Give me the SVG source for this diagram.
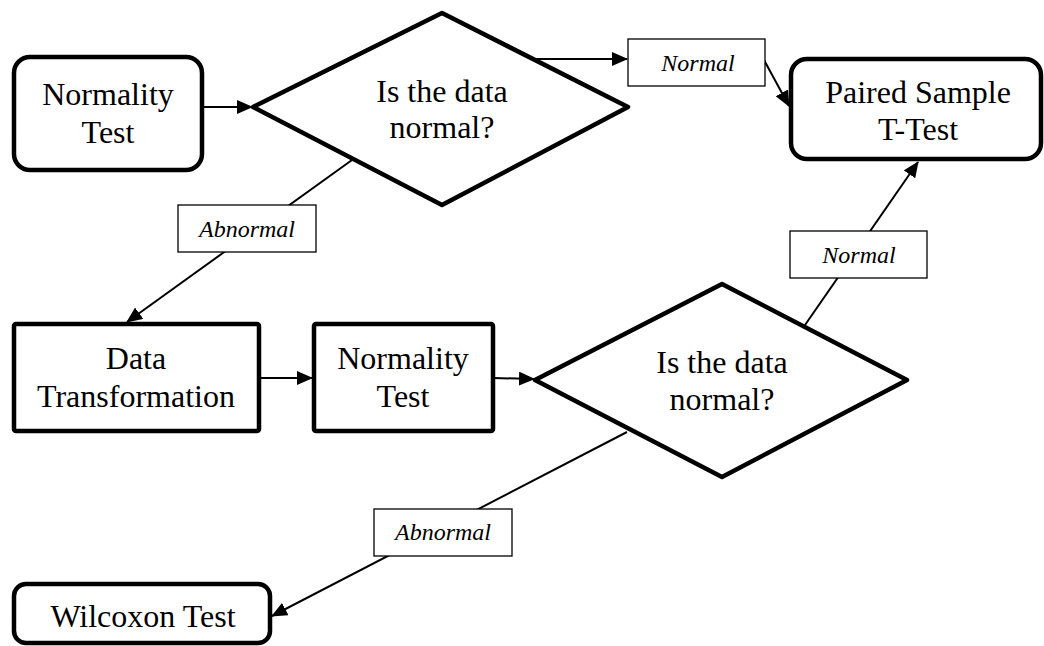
<svg xmlns="http://www.w3.org/2000/svg" width="1044" height="646" viewBox="0 0 1044 646">
<style>
.node{fill:#fff;stroke:#000;stroke-width:4.5;stroke-linejoin:round}
.nt{font-family:"Liberation Serif","Times New Roman",serif;font-size:32px;fill:#000;text-anchor:middle}
.edge{stroke:#000;stroke-width:2;fill:none}
.lbox{fill:#fff;stroke:#000;stroke-width:1.3}
.lt{font-family:"Liberation Serif","Times New Roman",serif;font-size:24px;font-style:italic;fill:#000;text-anchor:middle}
</style>
<defs>
<marker id="ah" markerUnits="userSpaceOnUse" markerWidth="16" markerHeight="14" refX="15" refY="7" orient="auto">
<path d="M0,0 L16,7 L0,14 Z" fill="#000"/>
</marker>
</defs>
<g id="connectors">
<line class="edge" x1="202" y1="107" x2="252" y2="107" marker-end="url(#ah)"/>
<line class="edge" x1="535" y1="59" x2="627" y2="59" marker-end="url(#ah)"/>
<line class="edge" x1="764" y1="60" x2="789" y2="106" marker-end="url(#ah)"/>
<line class="edge" x1="352" y1="160" x2="127" y2="322" marker-end="url(#ah)"/>
<line class="edge" x1="259" y1="378" x2="312" y2="378" marker-end="url(#ah)"/>
<line class="edge" x1="493" y1="378" x2="534" y2="379" marker-end="url(#ah)"/>
<line class="edge" x1="805" y1="325" x2="918" y2="162" marker-end="url(#ah)"/>
<line class="edge" x1="627" y1="432" x2="272" y2="616" marker-end="url(#ah)"/>
</g>
<g id="normality-test-1">
<rect class="node" x="14" y="57" width="188" height="113" rx="16"/>
<text class="nt" x="108" y="105">Normality</text>
<text class="nt" x="108" y="143">Test</text>
</g>
<g id="decision-1">
<polygon class="node" points="253,107 442,13 628,107 442,205"/>
<text class="nt" x="442" y="102">Is the data</text>
<text class="nt" x="442" y="138">normal?</text>
</g>
<g id="paired-t-test">
<rect class="node" x="791" y="59" width="250" height="100" rx="16"/>
<text class="nt" x="918" y="103">Paired Sample</text>
<text class="nt" x="918" y="140">T-Test</text>
</g>
<g id="data-transformation">
<rect class="node" x="14" y="324" width="245" height="107" rx="2"/>
<text class="nt" x="136" y="369">Data</text>
<text class="nt" x="136" y="407">Transformation</text>
</g>
<g id="normality-test-2">
<rect class="node" x="314" y="324" width="179" height="107" rx="2"/>
<text class="nt" x="403" y="369">Normality</text>
<text class="nt" x="403" y="407">Test</text>
</g>
<g id="decision-2">
<polygon class="node" points="535,380 722,284 907,380 722,477"/>
<text class="nt" x="722" y="373">Is the data</text>
<text class="nt" x="722" y="410">normal?</text>
</g>
<g id="wilcoxon-test">
<rect class="node" x="14" y="584" width="256" height="59" rx="12"/>
<text class="nt" x="143" y="627">Wilcoxon Test</text>
</g>
<g id="edge-labels">
<g id="label-normal-1"><rect class="lbox" x="628" y="39" width="137" height="47"/><text class="lt" x="698" y="71">Normal</text></g>
<g id="label-abnormal-1"><rect class="lbox" x="178" y="205" width="138" height="47"/><text class="lt" x="247" y="237">Abnormal</text></g>
<g id="label-normal-2"><rect class="lbox" x="790" y="231" width="137" height="47"/><text class="lt" x="859" y="263">Normal</text></g>
<g id="label-abnormal-2"><rect class="lbox" x="374" y="509" width="138" height="47"/><text class="lt" x="443" y="540">Abnormal</text></g>
</g>
</svg>
